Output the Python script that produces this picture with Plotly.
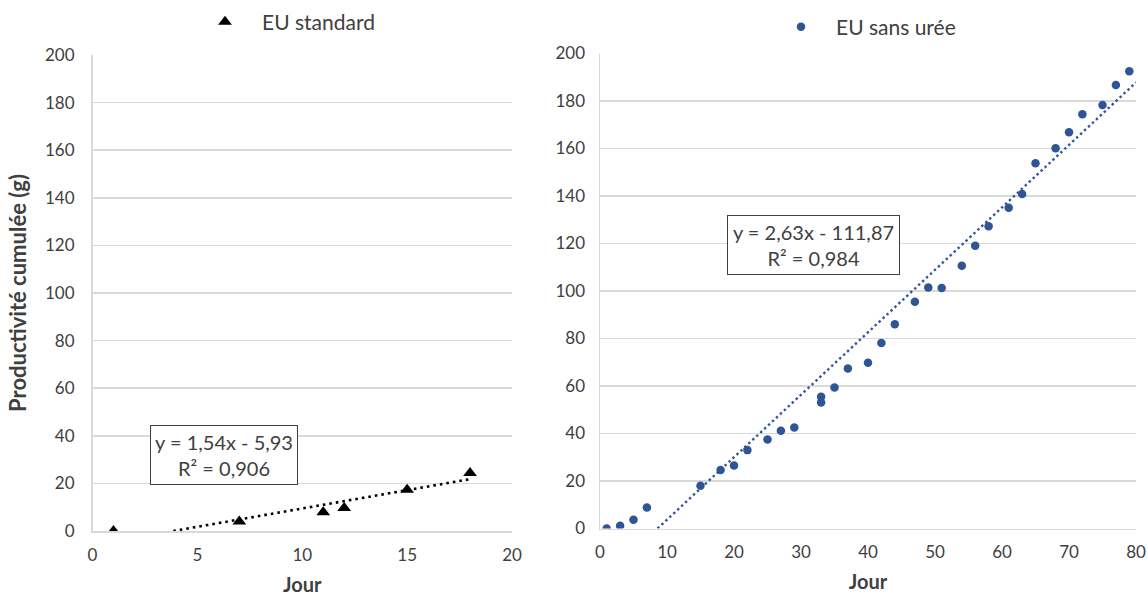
import plotly.graph_objects as go

# ---- data: EU standard (left panel)
std_jour = [1, 7, 11, 12, 15, 18]
std_prod = [0, 4.0, 7.9, 9.7, 17.3, 24.4]
std_name = "EU standard"
std_eq = "y = 1,54x - 5,93<br>R² = 0,906"
std_slope, std_intercept = 1.54, -5.93

# ---- data: EU sans urée (right panel)
su_jour = [1, 3, 5, 7, 15, 18, 20, 22, 25, 27, 29, 33, 33, 35, 37, 40, 42, 44,
           47, 49, 51, 54, 56, 58, 61, 63, 65, 68, 70, 72, 75, 77, 79]
su_prod = [0, 1.2, 3.7, 8.8, 18.0, 24.6, 26.5, 33.0, 37.5, 41.2, 42.5, 55.5, 53.1,
           59.4, 67.4, 69.8, 78.1, 86.0, 95.5, 101.5, 101.3, 110.6, 119.1, 127.3,
           135.1, 140.8, 153.8, 160.1, 166.8, 174.4, 178.3, 186.7, 192.5]
su_name = "EU sans urée"
su_eq = "y = 2,63x - 111,87<br>R² = 0,984"
su_slope, su_intercept = 2.63, -22.6   # trendline as drawn

x_title = "Jour"
y_title = "Productivité cumulée (g)"

FONT = "Lato"
TXT = "#404040"
GRID = "#d9d9d9"
BLUE = "#2f5597"

fig = go.Figure()

# trendlines (clipped at y = 0 like the reference)
def trend(slope, intercept, xmax):
    x0 = -intercept / slope
    return [x0, xmax], [slope * x0 + intercept, slope * xmax + intercept]

tx, ty = trend(std_slope, std_intercept, max(std_jour))
fig.add_trace(go.Scatter(x=tx, y=ty, mode="lines", showlegend=False,
                         line=dict(color="black", width=2.6, dash="2.6px,4px"),
                         xaxis="x", yaxis="y", hoverinfo="skip"))
tx, ty = trend(su_slope, su_intercept, 80)
fig.add_trace(go.Scatter(x=tx, y=ty, mode="lines", showlegend=False,
                         line=dict(color=BLUE, width=2.4, dash="2.4px,3px"),
                         xaxis="x2", yaxis="y2", hoverinfo="skip"))

fig.add_trace(go.Scatter(x=std_jour, y=std_prod, mode="markers", name=std_name,
                         marker=dict(symbol="triangle-up", size=12, color="black"),
                         xaxis="x", yaxis="y", legend="legend"))
fig.add_trace(go.Scatter(x=su_jour, y=su_prod, mode="markers", name=su_name,
                         marker=dict(symbol="circle", size=8.5, color=BLUE),
                         xaxis="x2", yaxis="y2", legend="legend2"))

axis_common = dict(showgrid=False, zeroline=False, showline=True, linecolor=GRID,
                   linewidth=1.5, tickfont=dict(family=FONT, size=17, color=TXT),
                   ticks="", fixedrange=True, automargin=False)
yaxis_common = dict(axis_common, showgrid=True, gridcolor=GRID, gridwidth=1.5,
                    range=[0, 200], dtick=20)

title_font = dict(family=FONT, size=20, color=TXT)

fig.update_layout(
    width=1148, height=596,
    margin=dict(l=0, r=0, t=0, b=0, autoexpand=False),
    paper_bgcolor="white", plot_bgcolor="white",
    font=dict(family=FONT, size=16, color=TXT),
    xaxis=dict(axis_common, domain=[92.5 / 1148, 512 / 1148], range=[0, 20], dtick=5,
               anchor="y", ticklabelstandoff=8,
               title=dict(text="<b>" + x_title + "</b>", standoff=19, font=title_font)),
    yaxis=dict(yaxis_common, domain=[65 / 596, 541 / 596], anchor="x",
               ticklabelstandoff=13,
               title=dict(text="<b>" + y_title + "</b>", standoff=12,
                          font=dict(family=FONT, size=22, color=TXT))),
    xaxis2=dict(axis_common, domain=[600 / 1148, 1136 / 1148], range=[0, 80], dtick=10,
                anchor="y2", ticklabelstandoff=8,
                title=dict(text="<b>" + x_title + "</b>", standoff=13, font=title_font)),
    yaxis2=dict(yaxis_common, domain=[67.5 / 596, 542.5 / 596], anchor="x2",
                ticklabelstandoff=10),
    legend=dict(x=188 / 1148, y=1 - 22 / 596, xanchor="left", yanchor="middle",
                itemwidth=64,
                font=dict(family=FONT, size=21, color=TXT), bgcolor="rgba(0,0,0,0)"),
    legend2=dict(x=766 / 1148, y=1 - 27 / 596, xanchor="left", yanchor="middle",
                 itemwidth=60,
                 font=dict(family=FONT, size=21, color=TXT), bgcolor="rgba(0,0,0,0)"),
    annotations=[
        dict(text=std_eq, xref="paper", yref="paper", x=224 / 1148, y=1 - 455 / 596,
             xanchor="center", yanchor="middle", showarrow=False, align="center",
             font=dict(family=FONT, size=20, color=TXT), bordercolor="#404040",
             borderwidth=1, borderpad=3, bgcolor="white", width=140, height=52),
        dict(text=su_eq, xref="paper", yref="paper", x=813.5 / 1148, y=1 - 245 / 596,
             xanchor="center", yanchor="middle", showarrow=False, align="center",
             font=dict(family=FONT, size=20, color=TXT), bordercolor="#404040",
             borderwidth=1, borderpad=3, bgcolor="white", width=165, height=52),
    ],
)

fig.write_html("out.html",
               config={"displayModeBar": False, "staticPlot": True},
               post_script="document.body.style.margin='0';"
                           "document.body.style.overflow='hidden';")
